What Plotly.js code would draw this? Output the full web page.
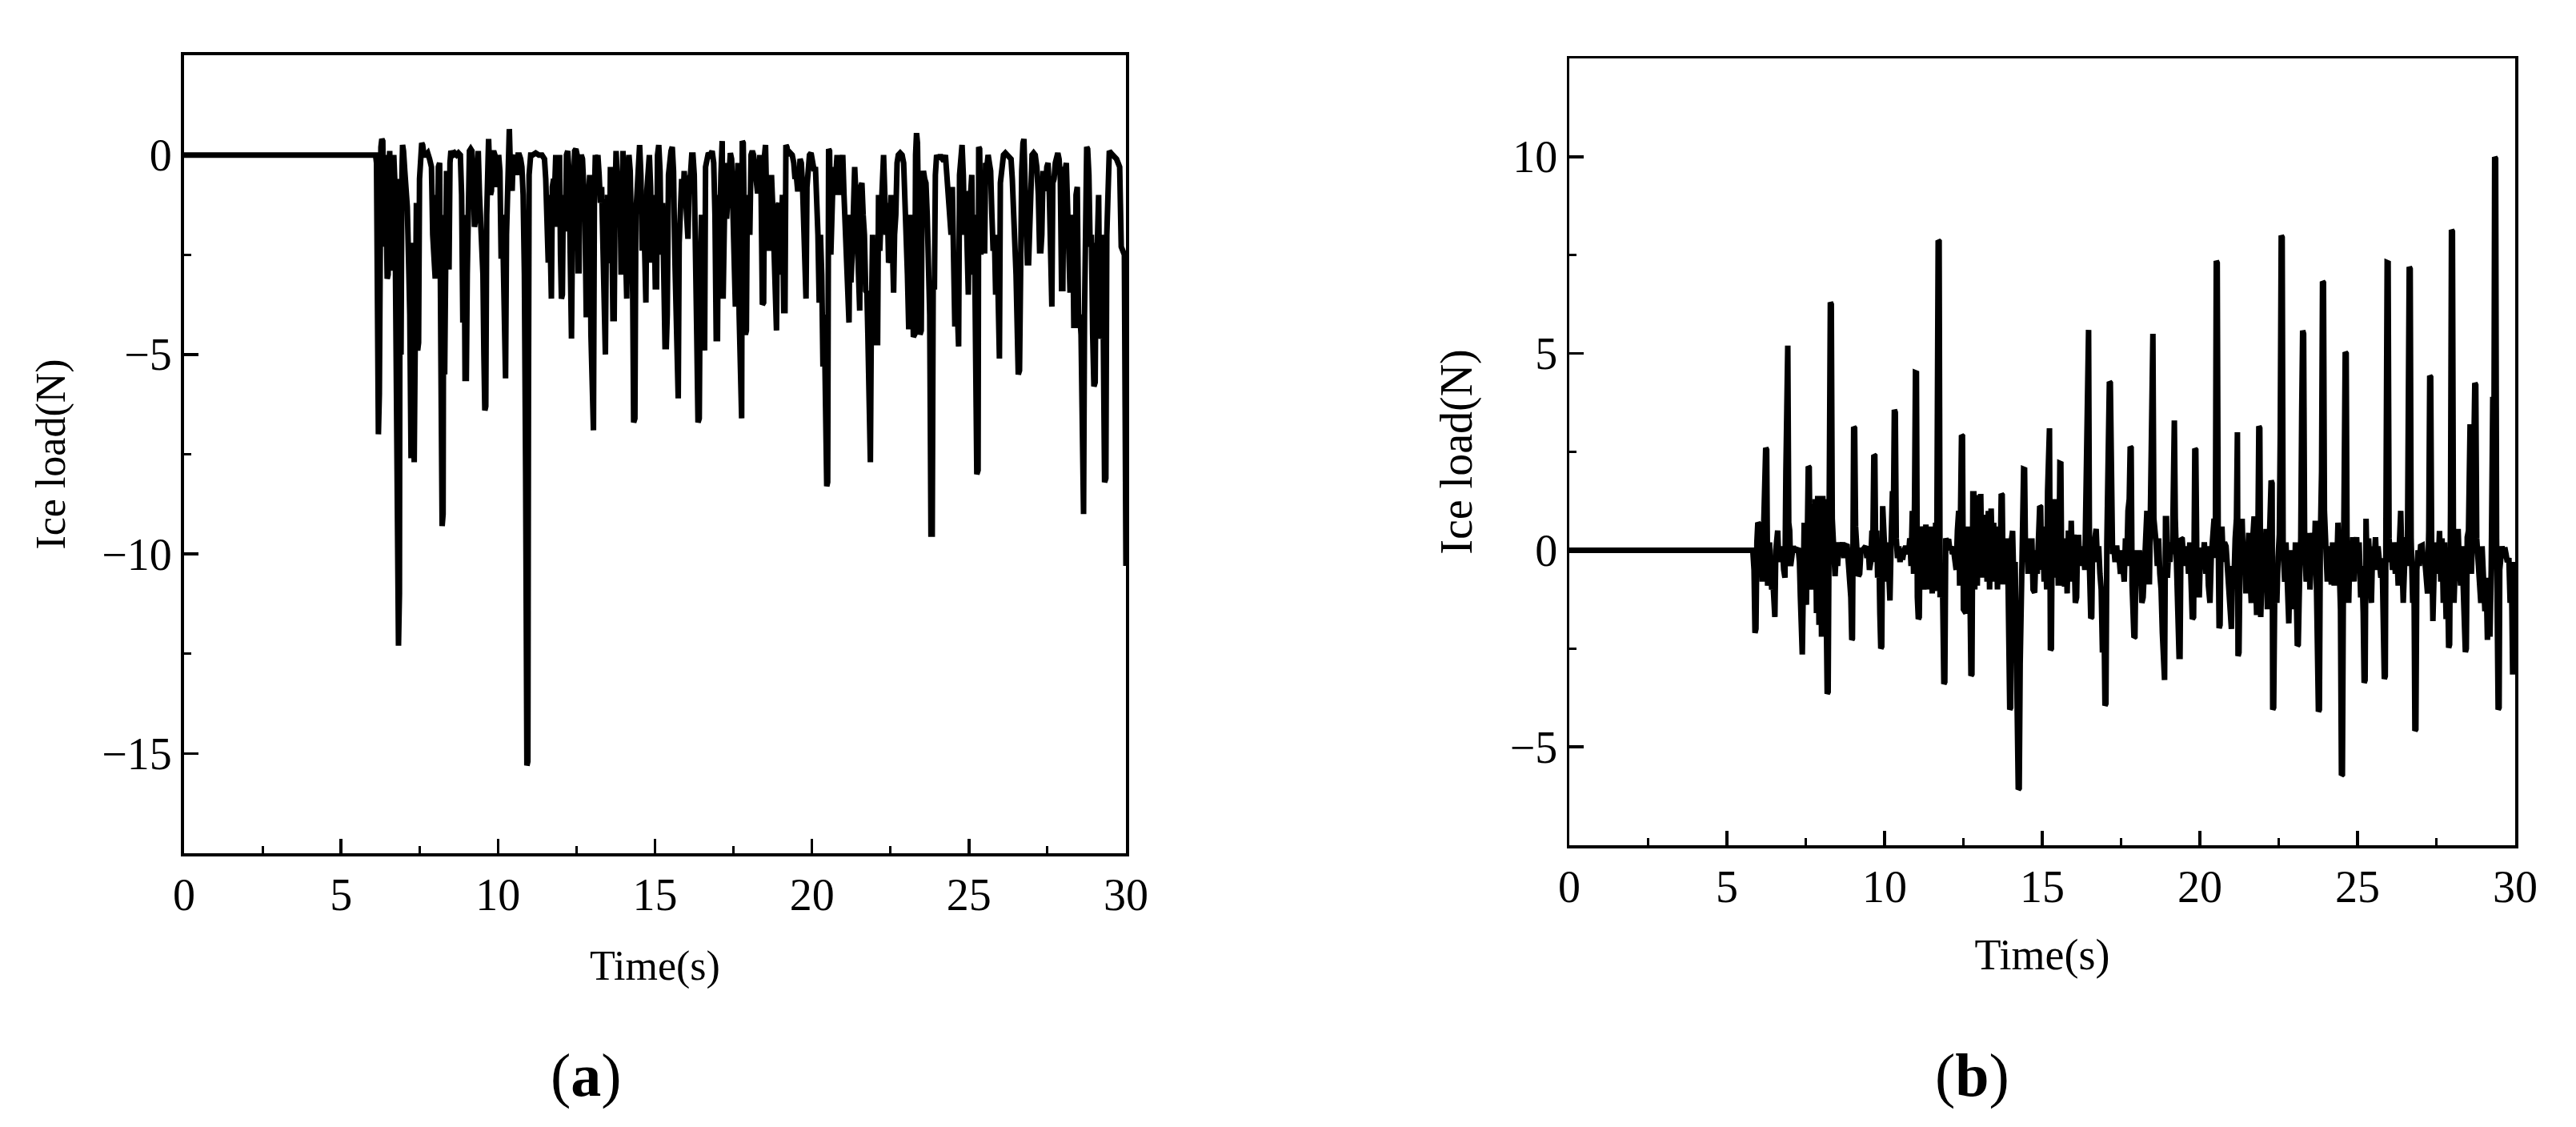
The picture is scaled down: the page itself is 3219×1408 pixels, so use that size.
<!DOCTYPE html>
<html>
<head>
<meta charset="utf-8">
<script src="https://cdn.plot.ly/plotly-3.0.1.min.js"></script>
<style>
  html, body { margin: 0; padding: 0; background: #ffffff; }
  #chart { width: 3219px; height: 1408px; }
</style>
</head>
<body>
<div id="chart"></div>
<script>
// ---------- data ----------
const panelLabels = ["a", "b"];
const xTitle = "Time(s)";
const yTitle = "Ice load(N)";
const timeTicks = [0, 5, 10, 15, 20, 25, 30];
const loadTicksA = [-15, -10, -5, 0];
const loadTicksB = [-5, 0, 5, 10];

// (a) ice load history: [time s, load N]
const iceLoadA = [
[0,0],[6.10,0],
[6.13,-0.2],[6.16,-5.8],[6.19,-7.0],[6.22,-6.0],[6.24,0.0],[6.27,0.2],[6.30,0.4],[6.33,0.35],[6.35,-1.3],[6.38,-2.3],[6.41,0.0],[6.44,-1.0],[6.47,-3.1],[6.50,-3.0],[6.52,-0.4],[6.55,0.1],[6.58,-1.8],[6.61,-2.9],[6.63,-2.6],[6.65,-0.2],[6.68,0.0],[6.71,-0.6],[6.74,-2.8],[6.77,-4.8],[6.80,-8.0],[6.83,-12.3],[6.86,-11.0],[6.88,-0.6],[6.91,-5.0],[6.94,-0.5],[6.96,0.25],[6.99,0.1],
[7.03,-0.4],[7.07,-0.8],[7.11,-1.3],[7.15,-2.6],[7.19,-4.0],[7.23,-7.6],[7.27,-5.0],[7.30,-2.2],[7.33,-7.7],[7.36,-4.8],[7.40,-1.2],[7.44,-4.9],[7.47,-4.7],[7.50,-0.6],[7.53,0.2],[7.57,0.3],[7.60,0.25],[7.64,0.0],[7.70,0.0],[7.76,0.05],[7.82,-0.1],[7.88,-0.3],[7.92,-2.0],[7.96,-3.1],[8.00,-3.1],[8.03,-1.0],[8.06,-3.0],[8.10,-0.3],[8.14,-0.2],[8.18,-5.0],[8.22,-9.3],[8.25,-9.0],[8.27,-1.5],[8.30,-5.5],[8.33,-3.0],[8.36,-0.4],[8.40,-2.8],[8.44,-2.8],[8.47,-0.2],[8.50,0.1],
[8.56,0.0],[8.62,0.05],[8.68,0.0],[8.74,0.05],[8.80,0.0],[8.84,-1.0],[8.88,-4.2],[8.92,-1.5],[8.95,-5.6],[8.99,-5.6],[9.02,-3.0],[9.05,-0.2],[9.09,0.1],[9.13,0.15],[9.17,0.1],[9.21,-0.5],[9.25,-1.8],[9.29,-1.6],[9.33,0.0],[9.37,0.1],[9.41,-1.0],[9.45,-2.0],[9.49,-1.9],[9.52,-3.0],[9.55,-5.0],[9.58,-6.4],[9.61,-6.3],[9.64,-1.5],[9.67,0.2],[9.70,0.4],[9.73,-0.3],[9.76,-1.0],[9.79,-0.9],[9.82,0.0],[9.86,0.1],[9.90,0.0],[9.94,-0.8],[9.98,-0.6],[10.02,0.0],[10.06,-0.4],[10.10,-2.6],[10.14,-1.5],[10.17,-3.5],[10.20,-5.6],[10.24,-5.6],[10.27,-2.0],[10.30,-0.3],[10.33,0.6],[10.36,0.65],[10.39,-0.2],[10.42,-0.9],[10.45,-0.9],[10.48,-0.1],[10.52,0.0],[10.56,-0.3],[10.60,-0.5],[10.64,0.0],[10.68,0.0],[10.72,-0.1],[10.76,-0.3],[10.80,-1.0],[10.84,-3.0],[10.88,-8.0],[10.92,-15.3],[10.95,-15.2],[10.97,-6.0],[10.99,-0.5],[11.04,0.0],[11.10,0.0],
[11.20,0.05],[11.30,0.0],[11.40,0.0],[11.48,-0.1],[11.52,-0.6],[11.56,-2.2],[11.60,-2.7],[11.63,-1.0],[11.66,-3.6],[11.70,-3.6],[11.73,-0.8],[11.77,-0.6],[11.81,-0.7],[11.84,0.0],[11.88,-1.8],[11.92,-0.5],[11.96,0.0],[11.99,-2.5],[12.02,-3.6],[12.05,-3.5],[12.08,-1.0],[12.12,-1.9],[12.15,-1.8],[12.18,0.0],[12.22,0.1],[12.26,-0.4],[12.30,-4.6],[12.34,-4.6],[12.37,-2.0],[12.40,-0.3],[12.44,0.1],[12.48,0.15],[12.52,0.0],[12.55,-2.9],[12.58,-2.9],[12.61,-0.2],[12.65,0.0],[12.69,-0.1],[12.73,-0.6],[12.77,-1.5],[12.81,-4.0],[12.85,-4.0],[12.88,-1.2],[12.92,-0.5],[12.96,-4.5],[13.00,-6.9],[13.04,-6.9],[13.07,-1.0],[13.10,0.0],[13.14,-0.2],[13.18,0.0],
[13.22,-0.5],[13.26,-1.2],[13.30,-0.8],[13.34,-2.5],[13.38,-5.0],[13.42,-5.0],[13.45,-2.0],[13.49,-1.0],[13.52,-2.7],[13.55,-2.6],[13.58,-0.3],[13.62,-1.5],[13.66,-4.1],[13.70,-4.1],[13.73,-1.0],[13.76,0.1],[13.80,-0.6],[13.84,-1.3],[13.88,-0.5],[13.92,-3.0],[13.95,-1.2],[13.98,0.1],[14.02,-1.0],[14.06,-3.6],[14.10,-3.6],[14.13,-0.5],[14.17,0.0],[14.21,-0.4],[14.25,-1.8],[14.29,-3.5],[14.32,-6.7],[14.36,-6.6],[14.39,-1.5],[14.43,-0.6],[14.47,0.1],[14.51,0.25],[14.55,-0.5],[14.59,-2.4],[14.63,-1.0],[14.67,-3.7],[14.71,-3.7],[14.74,-0.9],[14.78,-0.5],[14.82,0.0],[14.86,-0.8],[14.90,-2.7],[14.93,-1.0],[14.97,-1.5],[15.01,-3.3],[15.05,-3.3],[15.08,0.0],[15.12,0.25],[15.16,-0.4],[15.20,-2.5],[15.24,-1.2],[15.28,-3.9],[15.32,-4.8],[15.36,-4.8],[15.39,-4.0],[15.43,-0.5],[15.47,0.0],[15.51,0.1],[15.55,0.2],[15.59,-0.4],[15.63,-2.5],[15.67,-4.5],[15.70,-6.1],[15.74,-6.1],[15.77,-2.2],[15.81,-1.0],[15.85,-0.6],[15.89,-1.3],[15.93,-0.4],[15.97,-1.0],[16.01,-2.1],[16.05,-2.1],[16.09,-0.6],[16.13,-0.5],[16.17,0.0],[16.21,0.0],[16.25,-0.5],[16.29,-2.0],[16.33,-4.5],[16.37,-6.7],[16.41,-6.6],[16.44,-3.0],[16.48,-1.5],[16.52,-3.0],[16.55,-4.9],[16.58,-4.9],[16.61,-0.3],[16.65,0.0],[16.70,0.05],[16.76,0.0],[16.82,0.1],[16.87,-0.2],[16.91,-1.5],[16.95,-4.6],[16.99,-4.6],[17.02,-1.0],[17.06,-2.0],[17.10,-0.5],[17.14,0.35],[17.17,-3.6],[17.20,-1.5],[17.24,-0.2],[17.28,-1.6],[17.32,-1.0],[17.36,0.0],
[17.40,0.05],[17.44,-0.1],[17.48,-1.5],[17.52,-3.8],[17.56,-3.8],[17.60,-1.0],[17.64,-0.2],[17.68,-4.0],[17.72,-6.6],[17.76,-6.6],[17.78,0.35],[17.81,0.3],[17.84,-1.5],[17.88,-4.5],[17.91,-4.4],[17.94,-1.0],[17.98,-2.0],[18.02,-2.0],[18.06,0.0],[18.10,0.1],[18.14,0.0],[18.18,-0.2],[18.22,-0.6],[18.26,-0.9],[18.30,-0.9],[18.34,0.0],
[18.38,-1.0],[18.42,-3.75],[18.46,-3.7],[18.49,0.0],[18.52,0.25],[18.55,-0.9],[18.59,-0.8],[18.63,-2.4],[18.67,-1.0],[18.71,-0.5],[18.75,-1.3],[18.79,-2.5],[18.83,-4.4],[18.87,-4.4],[18.90,-1.3],[18.94,-1.2],[18.98,-3.0],[19.02,-2.0],[19.06,-1.0],[19.10,-3.9],[19.14,-3.9],[19.17,0.25],[19.20,0.2],[19.25,0.0],[19.31,0.05],[19.37,0.0],[19.42,-0.2],[19.46,-0.6],[19.50,-0.5],[19.54,-0.85],[19.58,-0.85],[19.62,-0.1],[19.66,-0.2],[19.70,-0.8],[19.74,-2.5],[19.77,-3.6],[19.81,-3.6],[19.84,-0.8],[19.88,-0.4],[19.92,0.0],[19.97,0.05],[20.03,-0.2],[20.07,-0.4],[20.11,-0.3],[20.15,-1.0],[20.19,-2.0],[20.23,-3.7],[20.27,-2.0],[20.31,-3.0],[20.35,-5.3],[20.39,-4.0],[20.43,-6.5],[20.47,-8.3],[20.50,-8.2],[20.53,0.15],[20.56,0.1],[20.60,-2.5],[20.64,-1.5],[20.68,-0.3],[20.72,-1.0],[20.76,-0.5],[20.80,0.0],[20.85,-0.6],[20.90,-1.0],[20.94,-0.3],[20.98,0.0],
[21.02,-1.0],[21.06,-2.0],[21.10,-3.0],[21.14,-4.2],[21.18,-4.2],[21.21,-1.5],[21.24,-3.2],[21.28,-2.5],[21.32,-1.0],[21.36,-0.3],[21.40,-1.0],[21.44,-2.0],[21.48,-3.9],[21.52,-3.9],[21.55,-0.8],[21.59,-0.7],[21.63,-1.5],[21.67,-2.0],[21.71,-3.4],[21.75,-3.45],[21.78,-4.5],[21.82,-7.7],[21.86,-7.7],[21.89,-4.2],[21.93,-2.0],[21.97,-4.2],[22.01,-3.0],[22.05,-4.7],[22.09,-4.7],[22.12,-1.0],[22.16,-2.4],[22.20,-1.5],[22.24,-0.2],[22.28,0.0],[22.32,-1.0],[22.36,-2.0],[22.40,-1.2],[22.44,-2.7],[22.48,-2.6],[22.52,-1.0],[22.56,-3.45],[22.60,-3.45],[22.63,-2.0],[22.67,-1.5],[22.71,-0.2],[22.75,0.0],[22.81,0.05],[22.87,0.0],[22.92,-0.2],[22.96,-1.0],[23.00,-2.0],[23.04,-3.0],[23.08,-4.3],[23.12,-4.3],[23.15,-1.5],[23.19,-2.5],[23.23,-4.56],[23.27,-4.5],[23.30,0.0],[23.33,0.55],[23.36,0.3],[23.40,-2.0],[23.44,-4.5],[23.48,-4.4],[23.51,-0.7],[23.55,-0.4],[23.59,-0.6],[23.63,-0.7],[23.67,-1.5],[23.71,-3.2],[23.75,-4.0],[23.79,-9.5],[23.83,-9.5],[23.86,-3.3],[23.90,-3.3],[23.93,-0.5],[23.97,0.0],
[24.03,-0.1],[24.09,0.0],[24.15,-0.1],[24.20,-0.15],[24.25,0.0],[24.30,-0.6],[24.35,-1.0],[24.39,-2.0],[24.43,-2.0],[24.47,-0.8],[24.51,-2.0],[24.55,-4.3],[24.59,-3.0],[24.63,-4.8],[24.67,-4.8],[24.70,-0.5],[24.74,0.0],[24.78,0.25],[24.82,-0.5],[24.86,-2.0],[24.90,-1.0],[24.94,-3.5],[24.98,-3.5],[25.01,-0.9],[25.05,-1.0],[25.09,-0.5],[25.13,-3.0],[25.17,-1.5],[25.21,-4.0],[25.25,-8.0],[25.29,-7.9],[25.31,0.2],[25.34,0.15],[25.38,-2.5],[25.42,-1.0],[25.46,-2.4],[25.50,-2.4],[25.53,-0.2],[25.57,-0.3],[25.61,0.0],[25.65,-0.2],[25.69,-0.4],[25.73,-1.5],[25.77,-2.4],[25.81,-2.0],[25.85,-3.5],[25.89,-2.0],[25.93,-5.1],[25.97,-5.1],[26.00,-0.7],[26.04,-0.2],[26.10,0.0],[26.16,0.05],[26.22,0.0],[26.28,0.0],[26.34,-0.1],[26.38,-0.6],[26.42,-2.2],[26.46,-2.2],[26.50,-3.0],[26.53,-4.3],[26.57,-5.5],[26.61,-5.4],[26.64,-1.8],[26.68,-0.4],[26.72,0.3],[26.75,0.4],[26.78,-0.5],[26.82,-2.0],[26.86,-2.7],[26.90,-2.7],[26.93,-1.5],[26.97,-0.2],
[27.01,0.0],[27.06,0.05],[27.11,0.0],[27.16,-0.3],[27.21,-1.0],[27.25,-2.4],[27.29,-2.4],[27.32,-2.0],[27.36,-0.4],[27.40,-0.7],[27.44,-0.9],[27.48,-0.3],[27.52,-0.2],[27.56,-1.0],[27.60,-3.8],[27.64,-3.8],[27.67,-0.7],[27.71,-0.6],[27.75,-0.2],[27.79,0.0],[27.83,0.05],[27.87,-0.1],[27.91,-0.6],[27.95,-3.35],[27.99,-3.35],[28.02,-0.3],[28.06,-0.4],[28.10,-0.2],[28.14,-1.0],[28.18,-2.5],[28.22,-3.45],[28.26,-3.0],[28.30,-1.5],[28.34,-4.27],[28.38,-4.27],[28.41,-1.0],[28.45,-0.8],[28.49,-4.2],[28.53,-4.0],[28.57,-4.5],[28.61,-9.0],[28.65,-9.0],[28.68,-4.0],[28.72,-0.5],[28.75,0.2],[28.78,0.15],[28.82,-0.5],[28.86,-2.3],[28.90,-2.0],[28.94,-4.5],[28.98,-5.8],[29.02,-5.7],[29.05,-2.3],[29.09,-2.2],[29.13,-1.0],[29.17,-4.6],[29.21,-4.5],[29.25,-2.0],[29.29,-5.0],[29.32,-8.2],[29.36,-8.1],[29.39,-2.0],[29.43,-0.5],[29.47,0.1],[29.52,0.05],[29.58,0.0],[29.64,0.0],[29.70,-0.1],[29.75,-0.2],[29.80,-0.3],[29.85,-2.3],[29.90,-2.4],[29.95,-2.5],[30.0,-10.3]
];

// (b) ice load history: [time s, load N]
const iceLoadB = [
[0,0],[5.82,0],[5.86,-0.5],[5.89,-2.1],[5.92,-2.0],[5.95,0.2],[5.98,0.7],[6.02,0.65],[6.05,-0.3],[6.08,0.5],[6.12,-0.8],[6.16,0.3],[6.20,1.0],[6.23,2.6],[6.26,2.55],[6.29,-0.9],[6.32,-0.6],[6.35,0.2],[6.38,-0.4],[6.42,-1.0],[6.46,-0.8],[6.49,-1.7],[6.52,-1.7],[6.55,0.0],[6.58,0.5],[6.61,0.5],[6.64,-0.2],[6.68,0.1],[6.72,-0.3],[6.76,0.1],[6.80,-0.5],[6.84,-0.7],[6.87,2.0],[6.90,5.2],[6.93,5.2],[6.96,0.7],[6.99,0.5],[7.02,-0.4],[7.06,-0.2],[7.10,0.1],[7.14,0.0],
[7.20,0.0],[7.26,0.05],[7.30,-0.3],[7.33,-1.2],[7.36,-2.65],[7.39,-2.65],[7.42,-1.0],[7.45,0.7],[7.49,-0.6],[7.52,-1.39],[7.55,0.3],[7.58,2.13],[7.61,2.1],[7.64,-0.5],[7.68,-1.0],[7.72,0.8],[7.76,-0.8],[7.80,1.3],[7.84,-1.6],[7.88,1.38],[7.92,-1.9],[7.96,1.38],[8.00,-2.2],[8.04,1.38],[8.08,-2.0],[8.11,1.3],[8.15,-2.9],[8.18,-3.65],[8.21,-3.6],[8.24,1.2],[8.26,3.0],[8.28,6.3],[8.31,6.25],[8.34,0.8],[8.38,-0.3],[8.43,-0.66],[8.47,0.0],[8.51,-0.4],[8.55,0.2],[8.59,-0.1],[8.63,0.0],[8.67,0.2],[8.71,-0.2],[8.75,0.1],[8.81,0.15],[8.85,-0.4],[8.89,-0.6],[8.93,-1.2],[8.96,-2.28],[8.98,-2.25],[9.00,0.3],[9.02,3.13],[9.05,3.1],[9.08,0.6],[9.12,-0.4],[9.17,-0.66],[9.21,-0.6],[9.25,0.0],[9.30,0.0],[9.35,0.05],[9.40,0.1],[9.44,-0.2],[9.48,0.1],[9.52,-0.5],[9.56,-0.3],[9.60,0.5],[9.63,0.3],[9.66,2.42],[9.69,2.4],[9.72,-0.3],[9.75,0.5],[9.78,-0.7],[9.82,0.0],[9.85,-1.6],[9.88,-2.5],[9.91,-2.45],[9.94,1.12],[9.97,0.3],
[10.01,-0.4],[10.05,-0.8],[10.09,0.2],[10.13,-1.0],[10.17,-1.28],[10.21,0.3],[10.25,1.5],[10.28,0.8],[10.31,3.57],[10.34,3.5],[10.37,0.3],[10.41,-0.2],[10.45,0.1],[10.49,-0.3],[10.53,0.0],[10.57,-0.24],[10.62,0.0],[10.67,0.1],[10.72,0.0],[10.76,-0.1],[10.80,0.3],[10.84,-0.4],[10.88,1.0],[10.92,-0.6],[10.95,1.2],[10.98,4.51],[11.01,4.5],[11.04,-1.2],[11.07,-1.75],[11.10,-1.7],[11.13,0.6],[11.17,0.3],[11.21,-0.6],[11.25,-1.0],[11.29,0.0],[11.31,0.65],[11.35,-0.8],[11.39,0.4],[11.43,-1.0],[11.47,0.6],[11.51,-1.1],[11.55,0.3],[11.58,-1.04],[11.62,0.7],[11.65,-1.0],[11.68,2.4],[11.70,7.87],[11.73,7.85],[11.76,-1.2],[11.80,-0.5],[11.84,-1.0],[11.88,-3.4],[11.91,-3.35],[11.94,0.3],[11.98,0.2],[12.03,0.28],[12.07,0.0],[12.11,0.1],[12.15,-0.1],[12.19,0.0],[12.23,-0.2],[12.27,-0.5],[12.31,0.5],[12.35,1.0],[12.38,-0.9],[12.41,1.5],[12.44,2.92],[12.47,2.9],[12.50,-1.5],[12.54,-1.6],[12.58,-1.6],[12.62,0.6],[12.66,-1.0],[12.70,-0.5],[12.74,-3.19],[12.77,-3.15],[12.80,1.43],[12.83,1.43],[12.86,-1.0],[12.90,1.4],[12.94,-0.9],[12.98,1.1],
[13.02,-0.6],[13.05,1.43],[13.09,-0.7],[13.13,0.7],[13.17,-0.5],[13.21,0.9],[13.25,-0.8],[13.29,1.0],[13.33,-1.0],[13.38,1.06],[13.42,-0.3],[13.46,0.7],[13.50,-0.8],[13.54,0.6],[13.58,-1.0],[13.62,0.4],[13.66,-0.6],[13.70,1.43],[13.73,1.4],[13.76,-0.87],[13.80,0.2],[13.84,-0.5],[13.88,0.3],[13.92,-1.0],[13.95,-2.0],[13.97,-4.05],[14.00,-4.0],[14.03,0.3],[14.06,0.49],[14.10,-0.9],[14.14,-0.3],[14.18,-2.5],[14.24,-6.08],[14.27,-6.05],[14.30,-2.9],[14.34,-0.5],[14.38,0.8],[14.41,2.06],[14.44,2.05],[14.47,-0.2],[14.51,0.3],[14.55,-0.6],[14.59,0.2],[14.63,-0.5],[14.67,0.3],[14.71,-1.0],[14.76,-1.08],[14.80,0.0],[14.84,-0.6],[14.88,0.5],[14.92,1.12],[14.95,1.1],[14.98,-0.5],
[15.02,0.4],[15.06,-0.8],[15.10,0.6],[15.14,-1.0],[15.17,1.5],[15.20,3.1],[15.23,3.1],[15.26,-2.54],[15.29,-2.5],[15.32,1.27],[15.35,-0.7],[15.39,1.3],[15.43,-0.5],[15.47,0.8],[15.51,-0.9],[15.54,0.5],[15.56,2.21],[15.59,2.2],[15.62,-0.9],[15.66,-0.6],[15.71,-0.92],[15.75,0.3],[15.79,-1.1],[15.83,0.5],[15.88,-0.8],[15.92,0.75],[15.96,-0.5],[16.00,0.4],[16.05,-1.34],[16.09,-1.2],[16.12,0.2],[16.15,0.39],[16.19,-0.4],[16.23,0.1],[16.27,-0.3],[16.31,0.0],[16.35,-0.5],[16.40,2.3],[16.44,5.6],[16.47,5.6],[16.50,-0.5],[16.54,-1.73],[16.57,-1.7],[16.60,0.2],[16.64,-0.3],[16.67,0.3],[16.71,0.54],[16.75,-0.3],[16.79,0.1],[16.83,-0.6],[16.87,-1.0],[16.91,-2.6],[16.95,-1.0],[16.99,-3.95],[17.02,-3.9],[17.05,0.2],[17.09,3.7],[17.13,4.28],[17.16,4.25],[17.19,0.3],[17.23,-0.1],[17.27,0.1],[17.31,-0.3],[17.36,0.12],[17.40,-0.3],[17.44,-0.2],[17.48,-0.6],[17.52,0.0],[17.56,-0.5],[17.60,-0.8],[17.64,0.3],[17.68,-0.4],[17.72,1.0],[17.76,1.3],[17.79,2.63],[17.82,2.6],[17.85,-0.9],[17.88,-1.6],[17.91,-2.22],[17.94,-2.2],
[17.97,-0.3],[18.01,0.0],[18.05,-0.9],[18.08,0.0],[18.12,-0.5],[18.16,-1.34],[18.20,-1.2],[18.24,-0.6],[18.28,0.5],[18.32,1.0],[18.36,-0.8],[18.40,-0.8],[18.44,1.5],[18.48,5.5],[18.51,5.5],[18.54,0.8],[18.57,0.2],[18.61,0.2],[18.65,-0.4],[18.69,0.3],[18.73,-0.6],[18.77,-1.0],[18.81,-2.1],[18.85,-3.3],[18.88,-3.3],[18.91,0.8],[18.94,0.8],[18.97,-0.7],[19.01,0.0],[19.05,-0.3],[19.09,0.2],[19.13,-0.1],[19.16,3.3],[19.19,3.3],[19.22,0.8],[19.26,-0.6],[19.30,-1.5],[19.34,-2.7],[19.37,-2.7],[19.40,0.3],[19.44,0.28],[19.48,-0.2],[19.52,0.1],[19.56,-0.4],[19.60,0.0],[19.64,-0.6],[19.68,0.2],[19.72,-0.8],[19.76,-1.75],[19.80,-1.7],[19.84,2.58],[19.87,2.55],[19.90,0.0],[19.94,-0.8],[19.98,-1.2],
[20.02,0.0],[20.06,0.0],[20.10,-0.4],[20.14,0.2],[20.19,-0.6],[20.23,0.1],[20.27,-0.9],[20.32,-1.34],[20.36,-0.2],[20.40,0.4],[20.45,0.8],[20.49,-0.2],[20.52,7.35],[20.55,7.3],[20.58,0.5],[20.61,-1.98],[20.64,-1.9],[20.67,0.3],[20.70,0.6],[20.74,-0.3],[20.78,0.2],[20.83,0.1],[20.87,-0.5],[20.91,-0.9],[20.95,-1.5],[21.00,-2.0],[21.04,-0.4],[21.08,-0.8],[21.12,0.3],[21.16,0.8],[21.19,3.0],[21.21,-2.69],[21.24,-2.6],[21.28,0.3],[21.34,0.8],[21.38,-0.5],[21.42,0.2],[21.46,-1.1],[21.50,0.1],[21.55,0.44],[21.59,-0.6],[21.63,-1.34],[21.67,0.2],[21.72,0.86],[21.76,-0.4],[21.80,-1.65],[21.84,0.3],[21.87,3.15],[21.90,3.1],[21.93,-1.7],[21.97,-0.5],
[22.01,0.44],[22.05,-0.4],[22.10,0.54],[22.14,-1.5],[22.18,-0.3],[22.22,0.6],[22.26,1.77],[22.29,1.7],[22.31,-4.05],[22.34,-4.0],[22.38,-0.5],[22.44,-1.34],[22.48,-0.2],[22.52,0.4],[22.55,3.0],[22.58,8.0],[22.61,7.95],[22.64,0.0],[22.69,-0.8],[22.73,0.2],[22.78,-1.2],[22.82,-1.86],[22.86,-0.3],[22.90,0.0],[22.94,-0.6],[22.99,-1.5],[23.03,0.2],[23.06,-1.0],[23.09,-2.43],[23.12,-2.4],[23.16,-0.8],[23.20,0.3],[23.23,3.5],[23.26,5.58],[23.29,5.5],[23.32,0.5],[23.37,-0.8],[23.41,-0.2],[23.45,0.44],[23.49,-1.0],[23.53,-0.3],[23.58,0.44],[23.62,-0.5],[23.66,0.75],[23.70,-1.0],[23.76,-4.1],[23.79,-4.05],[23.82,0.2],[23.86,2.0],[23.89,6.83],[23.92,6.8],[23.95,1.0],
[24.00,-0.3],[24.04,-0.8],[24.08,0.1],[24.12,-0.6],[24.17,-0.87],[24.21,0.2],[24.26,-0.9],[24.30,0.1],[24.34,-0.5],[24.38,0.7],[24.42,-0.3],[24.46,-1.5],[24.49,-5.72],[24.52,-5.7],[24.55,-1.0],[24.58,2.5],[24.61,5.03],[24.64,5.0],[24.67,-0.3],[24.72,-1.34],[24.76,0.1],[24.80,-0.6],[24.85,0.33],[24.89,-0.8],[24.93,0.1],[24.97,0.33],
[25.01,-0.5],[25.05,0.2],[25.10,-1.2],[25.14,-0.4],[25.18,-1.6],[25.21,-3.37],[25.24,-3.3],[25.27,0.8],[25.31,-0.8],[25.35,0.3],[25.39,-0.6],[25.44,-1.34],[25.48,0.1],[25.52,-0.4],[25.57,0.33],[25.61,-0.5],[25.65,0.1],[25.69,-0.4],[25.74,-0.7],[25.78,-0.2],[25.82,-1.5],[25.85,-3.27],[25.88,-3.2],[25.91,2.3],[25.94,7.31],[25.97,7.3],
[26.00,0.3],[26.04,-0.3],[26.07,0.0],[26.11,-0.5],[26.15,0.2],[26.20,-0.6],[26.24,0.1],[26.29,-0.9],[26.33,0.2],[26.37,1.0],[26.41,-0.3],[26.45,-1.34],[26.50,-0.2],[26.54,0.33],[26.58,-0.4],[26.61,2.5],[26.64,7.2],[26.67,7.15],[26.70,0.3],[26.75,-1.34],[26.79,-0.5],[26.82,-4.59],[26.85,-4.55],[26.88,-0.5],[26.92,0.0],[26.96,-0.4],
[27.00,0.1],[27.05,0.12],[27.09,-0.3],[27.13,-0.2],[27.18,-0.6],[27.22,-1.1],[27.26,0.5],[27.29,4.43],[27.32,4.4],[27.35,0.3],[27.39,-1.8],[27.43,-0.5],[27.47,-0.3],[27.51,0.2],[27.55,-0.6],[27.60,0.49],[27.64,-0.8],[27.68,0.3],[27.72,-1.34],[27.76,0.2],[27.81,-1.75],[27.85,-0.5],[27.89,-2.48],[27.92,-2.4],[27.95,1.0],[27.98,8.14],
[28.01,8.1],[28.04,0.5],[28.06,-1.34],[28.10,-0.3],[28.14,0.2],[28.19,0.54],[28.23,-0.4],[28.27,-0.9],[28.31,0.1],[28.35,-0.8],[28.39,-1.5],[28.42,-2.59],[28.45,-2.5],[28.48,0.33],[28.52,0.5],[28.57,3.2],[28.61,-0.6],[28.65,0.4],[28.69,2.0],[28.72,4.25],[28.75,4.2],[28.78,0.3],[28.82,-0.4],[28.86,-0.9],[28.91,-1.34],[28.95,0.1],
[29.00,-0.8],[29.04,-1.55],[29.08,-0.7],[29.12,-2.28],[29.16,-1.0],[29.20,-2.2],[29.24,-0.5],[29.29,3.9],[29.32,0.3],[29.35,9.99],[29.38,9.95],[29.41,0.3],[29.44,-2.0],[29.46,-4.05],[29.49,-4.0],[29.51,-0.5],[29.54,-0.3],[29.58,0.1],[29.62,-0.2],[29.67,0.07],[29.71,-0.1],[29.75,-0.3],[29.80,-0.2],[29.84,-1.34],[29.88,-0.4],[29.92,-3.16],[29.96,-0.3],[30.0,-3.1]
];

// ---------- drawing ----------
const FONT = "Liberation Serif, Times New Roman, serif";

function lineTrace(pairs, xa, ya) {
  return {
    type: "scatter", mode: "lines",
    x: pairs.map(p => p[0]), y: pairs.map(p => p[1]),
    xaxis: xa, yaxis: ya,
    line: { color: "#000000", width: 7 },
    hoverinfo: "skip", showlegend: false
  };
}

function axisBase(lw) {
  return {
    showline: true, linecolor: "#000000", linewidth: lw, mirror: true,
    showgrid: false, zeroline: false,
    ticks: "inside", ticklen: 18, tickwidth: 3.5, tickcolor: "#000000",
    tickfont: { family: FONT, size: 56, color: "#000000" },
    fixedrange: true, automargin: false
  };
}
const minorTicks = { ticks: "inside", ticklen: 9, tickwidth: 3, tickcolor: "#000000", tick0: 0, dtick: 2.5, showgrid: false };
const fmtMinus = v => v < 0 ? "\u2212" + Math.abs(v) : String(v);

const xA = Object.assign(axisBase(4), {
  domain: [230/3219, 1407/3219], range: [0, 30], anchor: "y",
  tickmode: "array", tickvals: timeTicks, ticktext: timeTicks.map(String), minor: minorTicks,
  title: { text: xTitle, font: { family: FONT, size: 52, color: "#000000" }, standoff: 40 }
});
const yA = Object.assign(axisBase(4), {
  domain: [1 - 1066/1408, 1 - 69/1408], range: [-17.5, 2.5], anchor: "x",
  tickmode: "array", tickvals: loadTicksA, ticktext: loadTicksA.map(fmtMinus), minor: minorTicks,
  title: { text: yTitle, font: { family: FONT, size: 52, color: "#000000" }, standoff: 30 }
});
const xB = Object.assign(axisBase(3.5), {
  domain: [1961/3219, 3143/3219], range: [0, 30], anchor: "y2",
  tickmode: "array", tickvals: timeTicks, ticktext: timeTicks.map(String), minor: minorTicks,
  title: { text: xTitle, font: { family: FONT, size: 54, color: "#000000" }, standoff: 36 }
});
const yB = Object.assign(axisBase(3.5), {
  domain: [1 - 1056/1408, 1 - 73/1408], range: [-7.5, 12.5], anchor: "x2",
  tickmode: "array", tickvals: loadTicksB, ticktext: loadTicksB.map(fmtMinus), minor: minorTicks,
  title: { text: yTitle, font: { family: FONT, size: 56, color: "#000000" }, standoff: 30 }
});

const layout = {
  width: 3219, height: 1408,
  margin: { l: 0, r: 0, t: 0, b: 0, pad: 0 },
  paper_bgcolor: "#ffffff", plot_bgcolor: "#ffffff",
  showlegend: false,
  xaxis: xA, yaxis: yA, xaxis2: xB, yaxis2: yB,
  annotations: [
    { xref: "paper", yref: "paper", x: 732/3219, y: 1 - 1343/1408, xanchor: "center", yanchor: "middle",
      text: "(<b>" + panelLabels[0] + "</b>)", showarrow: false, font: { family: FONT, size: 76, color: "#000000" } },
    { xref: "paper", yref: "paper", x: 2464/3219, y: 1 - 1343/1408, xanchor: "center", yanchor: "middle",
      text: "(<b>" + panelLabels[1] + "</b>)", showarrow: false, font: { family: FONT, size: 76, color: "#000000" } }
  ]
};

Plotly.newPlot("chart", [lineTrace(iceLoadA, "x", "y"), lineTrace(iceLoadB, "x2", "y2")], layout,
  { staticPlot: true, displayModeBar: false });
</script>
</body>
</html>
